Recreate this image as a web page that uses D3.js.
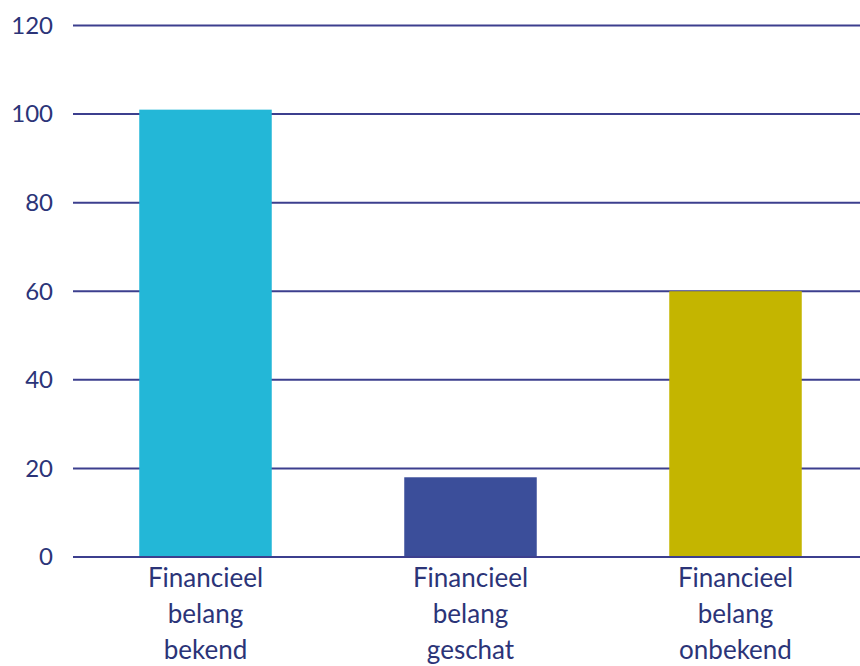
<!DOCTYPE html>
<html><head><meta charset="utf-8">
<script src="https://cdn.jsdelivr.net/npm/d3@7"></script>
<style>body{margin:0;background:#fff}svg{display:block}</style>
</head><body>
<svg id="c" width="860" height="666"></svg>
<script>
const categories = [["Financieel","belang","bekend"],["Financieel","belang","geschat"],["Financieel","belang","onbekend"]];
const values = [101, 18, 60];
const colors = ["#23B7D7", "#3B4E9A", "#C4B500"];
const yTicks = [0, 20, 40, 60, 80, 100, 120];

const svg = d3.select("#c");
const font = "Lato, 'Open Sans', sans-serif";
const textColor = "#2B3478";
const x = d3.scaleBand().domain(d3.range(values.length)).range([73, 868]).paddingInner(0.5).paddingOuter(0.25);
const y = d3.scaleLinear().domain([0, 120]).range([557, 25.5]);

svg.append("g").selectAll("line").data(yTicks).join("line")
  .attr("x1", 73).attr("x2", 860)
  .attr("y1", d => y(d)).attr("y2", d => y(d))
  .attr("stroke", "#3C3F8E").attr("stroke-width", 2);

svg.append("g").selectAll("text").data(yTicks).join("text")
  .attr("x", 53).attr("y", d => y(d)).attr("dy", "0.35em")
  .attr("text-anchor", "end").attr("font-family", font).attr("font-size", 24)
  .attr("fill", textColor).text(d => d);

svg.append("g").selectAll("rect").data(values).join("rect")
  .attr("x", (d, i) => x(i)).attr("width", x.bandwidth())
  .attr("y", d => y(d)).attr("height", d => y(0) - y(d) - 1)
  .attr("fill", (d, i) => colors[i]);

const lab = svg.append("g").selectAll("text").data(categories).join("text")
  .attr("text-anchor", "middle").attr("font-family", font).attr("font-size", 26)
  .attr("fill", textColor);
lab.selectAll("tspan").data((d, i) => d.map(t => ({t, i}))).join("tspan")
  .attr("x", d => x(d.i) + x.bandwidth() / 2)
  .attr("y", (d, j) => 587 + j * 36)
  .text(d => d.t);
</script>
</body></html>
